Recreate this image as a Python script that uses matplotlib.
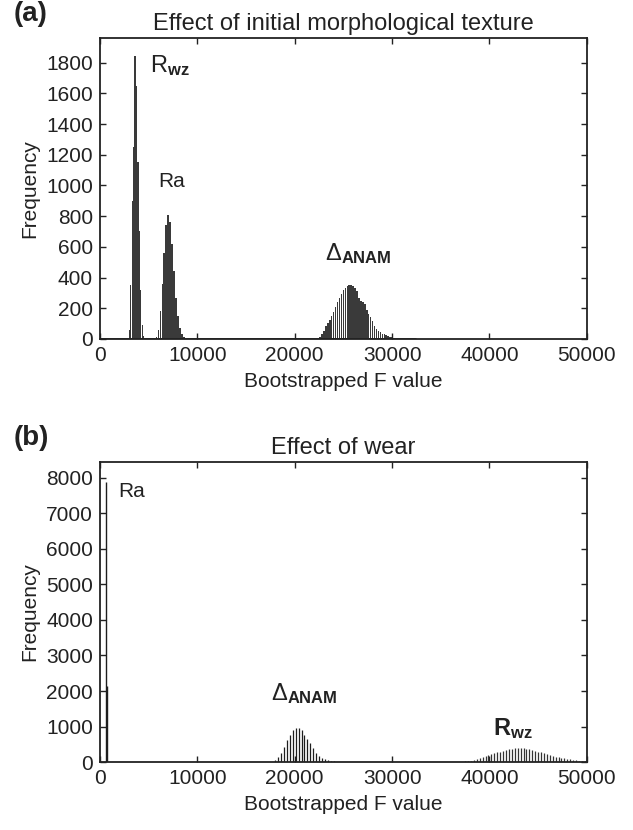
import matplotlib
matplotlib.use("Agg")
import matplotlib.pyplot as plt
import numpy as np

plt.rcParams['font.family'] = ['Liberation Sans', 'DejaVu Sans']
plt.rcParams['mathtext.fontset'] = 'custom'
plt.rcParams['mathtext.rm'] = 'Liberation Sans'
plt.rcParams['mathtext.it'] = 'Liberation Sans'
plt.rcParams['mathtext.bf'] = 'Liberation Sans:bold'

# ---------------- data: panel (a) ----------------
bin_a_narrow = 150
rwz_a_start = 3000
rwz_a = [60, 350, 900, 1250, 1840, 1650, 1150, 700, 320, 90, 20]

bin_a = 200
ra_a_start = 5800
ra_a = [10, 60, 180, 360, 560, 740, 810, 760, 620, 440, 270, 150, 70, 30, 12, 5]

anam_a_start = 22400
anam_a = [4, 12, 30, 52, 82, 105, 125, 148, 178, 210, 238, 265, 295, 318, 335,
          345, 350, 352, 345, 330, 310, 270, 250, 240, 228, 190, 160, 140, 115,
          85, 68, 55, 45, 35, 30, 25, 18, 14, 10, 6, 3]
low_count_extent_a = 32500

# ---------------- data: panel (b) ----------------
ra_b_x = [585, 750]
ra_b = [7900, 2150]

bin_b = 300
anam_b_start = 18000
anam_b = [60, 150, 244, 430, 620, 760, 900, 967, 950, 900, 760, 640, 526, 385,
          244, 178, 122, 85, 56, 35, 20, 10]

rwz_b_start = 37500
rwz_b = [15, 28, 40, 56, 75, 103, 130, 160, 190, 225, 250, 275, 295, 320, 340,
         355, 375, 390, 404, 400, 385, 375, 360, 340, 320, 295, 270, 245, 215,
         190, 170, 150, 130, 115, 100, 88, 75, 62, 50, 40, 32, 25]

xticks = [0, 10000, 20000, 30000, 40000, 50000]
yticks_a = list(range(0, 1801, 200))
yticks_b = list(range(0, 8001, 1000))

titles = ["Effect of initial morphological texture", "Effect of wear"]
panel_labels = ["(a)", "(b)"]
xlabel = "Bootstrapped F value"
ylabel = "Frequency"


def centers(start, step, vals):
    return start + step * np.arange(len(vals))


fig = plt.figure(figsize=(6.33, 8.30), dpi=100)
ax_a = fig.add_axes([0.158, 0.5916, 0.769, 0.3626])
ax_b = fig.add_axes([0.158, 0.0819, 0.769, 0.3615])

# panel a bars
bar_col = '#3a3a3a'
ax_a.bar(centers(rwz_a_start, bin_a_narrow, rwz_a), rwz_a, width=bin_a_narrow * 0.8,
         color=bar_col, edgecolor='none')
ax_a.bar(centers(ra_a_start, bin_a, ra_a), ra_a, width=bin_a * 0.8,
         color=bar_col, edgecolor='none')
ax_a.bar(centers(anam_a_start, bin_a, anam_a), anam_a, width=bin_a * 0.8,
         color=bar_col, edgecolor='none')
ax_a.hlines(0, 0, low_count_extent_a, color='#222222', lw=2.0, zorder=3)

# panel b thin bars
line_col = '#1e1e1e'
ax_b.vlines(ra_b_x, 0, ra_b, color=line_col, lw=1.0)
ax_b.vlines(centers(anam_b_start, bin_b, anam_b), 0, anam_b, color=line_col, lw=0.9)
ax_b.vlines(centers(rwz_b_start, bin_b, rwz_b), 0, rwz_b, color='#333333', lw=0.9)

for ax, yt, ymax, title, pl in [(ax_a, yticks_a, 1960, titles[0], panel_labels[0]),
                                (ax_b, yticks_b, 8450, titles[1], panel_labels[1])]:
    ax.set_xlim(0, 50000)
    ax.set_ylim(0, ymax)
    ax.set_xticks(xticks)
    ax.set_yticks(yt)
    ax.tick_params(direction='in', top=True, right=True, length=4, width=1.0,
                   labelsize=15, colors='#222222', pad=5)
    for s in ax.spines.values():
        s.set_linewidth(1.3)
        s.set_color('#222222')
    ax.set_title(title, fontsize=17, color='#222222', pad=6)
    ax.set_xlabel(xlabel, fontsize=15, color='#222222', labelpad=5)
    ax.set_ylabel(ylabel, fontsize=15, color='#222222', labelpad=5)
    ax.text(-0.178, 1.035, pl, transform=ax.transAxes, fontsize=20,
            fontweight='bold', color='#222222', ha='left', va='bottom')

# annotations
ax_a.text(5130, 1741, r'$\mathrm{R}_{\mathbf{wz}}$', fontsize=17, color='#222222')
ax_a.text(5950, 991, 'Ra', fontsize=15, color='#222222')
ax_a.text(23100, 515, r'$\Delta_{\mathbf{ANAM}}$', fontsize=17, color='#222222')

ax_b.text(1850, 7465, 'Ra', fontsize=15, color='#222222')
ax_b.text(17520, 1746, r'$\Delta_{\mathbf{ANAM}}$', fontsize=17, color='#222222')
ax_b.text(40320, 760, r'$\mathbf{R}_{\mathbf{wz}}$', fontsize=17, color='#222222')

fig.savefig('out.png', dpi=100)
